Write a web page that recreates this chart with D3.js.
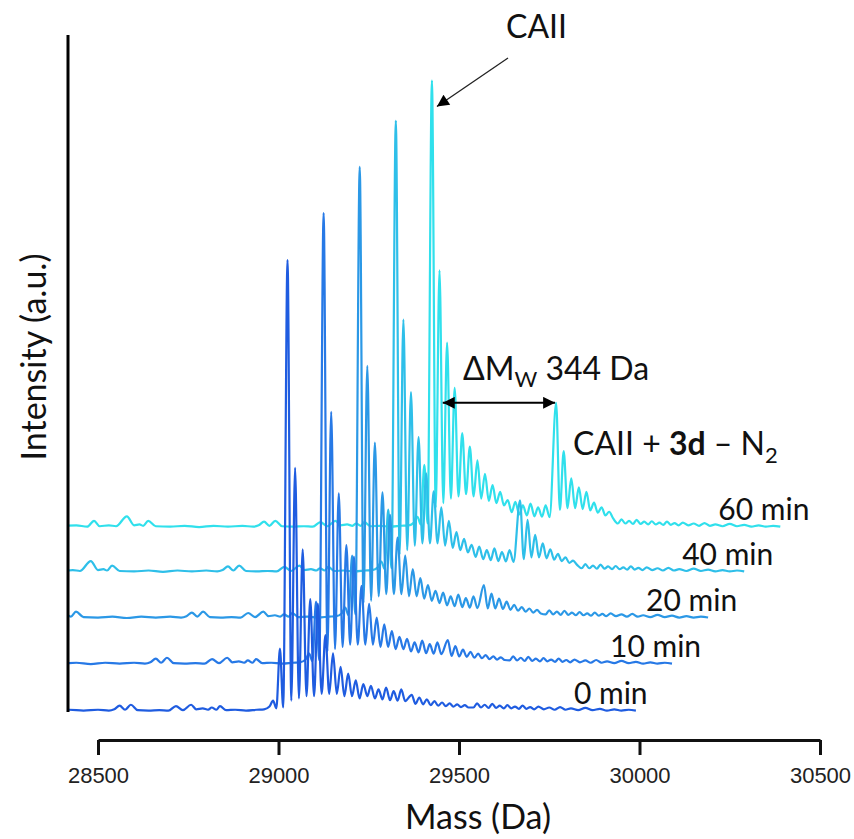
<!DOCTYPE html>
<html>
<head>
<meta charset="utf-8">
<title>CAII labelling time course</title>
<script src="https://cdn.jsdelivr.net/npm/d3@7"></script>
<style>
  body { margin: 0; background: #fff; }
  svg { display: block; }
  .lbl { font-family: Lato, "Open Sans", sans-serif; fill: #111; }
  .tick text { font-family: "Liberation Sans Narrow", "Arial Narrow", "Liberation Sans", sans-serif; font-size: 22px; fill: #222; }
</style>
</head>
<body>
<svg id="chart" width="854" height="839"></svg>
<script>
// spectra are stored in their own mass frame, the waterfall offsets are applied on drawing
const traceLabels = ['0 min', '10 min', '20 min', '40 min', '60 min'];
const traceColors = ['#1f5ce0', '#2779e6', '#2b98e6', '#2ebfe9', '#30e0ec'];
const massShift = [0, 100, 200, 300, 400];          // Da
const intensityShift = [0, 10.4, 20.6, 30.8, 40.7]; // a.u.
const massTicks = [28500, 29000, 29500, 30000, 30500];

// baseline noise + small pre-peak (shared by all traces)
const baselinePts = [
  [28000, 0.4], [28040, 0.6], [28070, 0.3], [28089, 1.6], [28105, 0.4], [28130, 0.6],
  [28150, 0.4], [28180, 2.6], [28200, 0.6], [28215, 0.8], [28225, 0.5], [28239, 1.6],
  [28260, 0.4], [28300, 0.3], [28340, 0.5], [28380, 0.2], [28420, 0.5], [28460, 0.3],
  [28500, 0.5], [28530, 0.3], [28545, 0.6], [28560, 1.4], [28575, 0.5], [28591, 1.6],
  [28610, 0.4], [28640, 0.3], [28670, 0.4], [28695, 0.3], [28716, 1.3], [28735, 0.4],
  [28758, 1.6], [28772, 0.6], [28790, 0.8], [28805, 0.5], [28815, 1.0], [28828, 0.5],
  [28838, 1.3], [28855, 0.4], [28880, 0.5], [28910, 0.3], [28940, 0.5], [28960, 0.6],
  [28975, 1.2], [28985, 2.5], [28994, 0.8], [29004, 14], [29013, 1.0]
];

// CAII main peak and its adduct ladder
const ladderMass = [29025, 29046, 29067, 29088, 29109, 29130, 29151, 29172, 29193, 29214];
const ladderPeaks = [
  [100, 54, 36, 25, 24, 17, 13, 10, 8.5, 7],
  [100, 56, 38, 26.5, 24, 17.5, 13.5, 10.5, 9, 7.5],
  [100, 56, 39, 28, 23, 18, 14, 11, 9, 7.5],
  [100, 56, 40, 30, 22, 18, 14.5, 11.5, 9, 7.5],
  [99, 57, 41, 31, 21, 18, 15, 12, 9.5, 8]
];
const ladderValleys = [
  [2.5, 3, 3.5, 3.5, 4, 4, 4, 3.5, 3.5, 3],
  [3, 3.5, 4, 4.5, 4.5, 4.5, 4.5, 4, 4, 3.5],
  [3.5, 4, 5, 5.5, 5.5, 5.5, 5, 5, 4.5, 4],
  [4, 5, 6, 6.5, 6.5, 6.5, 6, 5.5, 5, 4.5],
  [4.5, 5.5, 6.5, 7, 7.5, 7, 6.5, 6, 5.5, 5]
];

// decaying tail (shared)
const tailPts = [
  [29235, 6.2], [29246, 3.5], [29256, 5.8], [29267, 3.0], [29277, 5.0], [29288, 2.8],
  [29298, 5.4], [29309, 2.6], [29319, 4.6], [29330, 2.5], [29340, 5.0], [29351, 2.4],
  [29361, 4.2], [29372, 2.2], [29382, 4.4], [29393, 2.2], [29403, 3.8], [29414, 2.0],
  [29424, 3.2], [29435, 1.8], [29445, 3.0], [29456, 1.6], [29466, 2.6], [29477, 1.4],
  [29487, 2.4], [29498, 1.3], [29508, 2.2], [29519, 1.2], [29529, 2.0], [29540, 1.0],
  [29550, 1.9], [29561, 1.0], [29571, 1.6], [29582, 0.9], [29592, 1.8], [29603, 0.9],
  [29613, 1.4], [29624, 0.8], [29634, 1.5], [29645, 0.8], [29655, 1.2], [29666, 0.7],
  [29676, 1.4], [29687, 0.7], [29697, 1.1], [29708, 0.6], [29720, 1.2], [29735, 0.6],
  [29750, 1.0], [29765, 0.5], [29780, 1.1], [29795, 0.5], [29810, 0.8], [29830, 0.4],
  [29850, 0.9], [29870, 0.4], [29890, 0.7], [29910, 0.3], [29930, 0.6], [29950, 0.3],
  [29970, 0.5], [29990, 0.3]
];

// CAII + 3d - N2 (+344 Da)
const adductMass = [29369, 29390, 29411, 29432, 29453, 29474, 29495, 29516];
const adductPeaks = [
  [3.8, 3.2, 2.8, 2.4, 2.1, 1.9, 1.7, 1.5],
  [5.5, 4.2, 3.4, 2.9, 2.5, 2.2, 1.9, 1.7],
  [7.5, 5.6, 4.5, 3.8, 3.1, 2.6, 2.3, 2.0],
  [16, 11.7, 8.4, 6.5, 5.2, 4.2, 3.4, 2.7],
  [27.7, 17, 11, 9, 8, 5.6, 4.6, 3.6]
];
const adductValleys = [
  [1.8, 1.7, 1.5, 1.4, 1.3, 1.2, 1.1, 1.0],
  [2.0, 1.9, 1.8, 1.6, 1.5, 1.3, 1.2, 1.1],
  [2.3, 2.3, 2.2, 2.0, 1.8, 1.6, 1.4, 1.2],
  [3.0, 3.4, 3.4, 3.2, 2.9, 2.6, 2.2, 1.8],
  [4.0, 4.4, 4.4, 4.2, 3.9, 3.4, 2.8, 2.2]
];
const halfSpacing = 10.5;

const svg = d3.select('#chart');

const x = d3.scaleLinear().domain([28500, 30500]).range([98, 820]);
const y = d3.scaleLinear().domain([0, 150]).range([712, 34]);

function buildTrace(i) {
  var pts = baselinePts.slice();
  ladderMass.forEach(function (m, k) {
    pts.push([m, ladderPeaks[i][k]]);
    pts.push([m + halfSpacing, ladderValleys[i][k]]);
  });
  tailPts.forEach(function (p) {
    if (p[0] < 29355 || p[0] > 29535) pts.push(p);
  });
  adductMass.forEach(function (m, k) {
    pts.push([m, adductPeaks[i][k]]);
    pts.push([m + halfSpacing, adductValleys[i][k]]);
  });
  pts.sort(function (a, b) { return a[0] - b[0]; });
  return pts.map(function (p) { return [p[0] + massShift[i], p[1] + intensityShift[i]]; });
}

svg.append('clipPath').attr('id', 'plotclip')
  .append('rect').attr('x', 68).attr('y', 0).attr('width', 800).attr('height', 760);

var line = d3.line()
  .x(function (d) { return x(d[0]); })
  .y(function (d) { return y(d[1]); })
  .curve(d3.curveMonotoneX);

var traces = svg.append('g').attr('clip-path', 'url(#plotclip)');
// back (60 min) first, front (0 min) last
d3.range(traceLabels.length - 1, -1, -1).forEach(function (i) {
  traces.append('path')
    .datum(buildTrace(i))
    .attr('d', line)
    .attr('fill', 'none')
    .attr('stroke', traceColors[i])
    .attr('stroke-width', 2.2)
    .attr('stroke-linejoin', 'round');
});

// trace labels
traceLabels.forEach(function (t, i) {
  svg.append('text').attr('class', 'lbl')
    .attr('x', x(29990 + massShift[i]) - 62)
    .attr('y', y(intensityShift[i]) - 8)
    .attr('font-size', 30)
    .text(t);
});

// axes
svg.append('line')
  .attr('x1', 68).attr('x2', 68).attr('y1', 35).attr('y2', 712)
  .attr('stroke', '#000').attr('stroke-width', 3);

var xAxis = svg.append('g')
  .attr('transform', 'translate(0,740)')
  .call(d3.axisBottom(x).tickValues(massTicks).tickSize(15).tickSizeOuter(0)
    .tickPadding(12).tickFormat(d3.format('d')));
xAxis.select('.domain').attr('stroke', '#111').attr('stroke-width', 3);
xAxis.selectAll('.tick line').attr('stroke', '#111').attr('stroke-width', 3);

svg.append('text').attr('class', 'lbl')
  .attr('x', 478).attr('y', 829).attr('text-anchor', 'middle')
  .attr('font-size', 34).text('Mass (Da)');

svg.append('text').attr('class', 'lbl')
  .attr('transform', 'translate(46,357) rotate(-90)')
  .attr('text-anchor', 'middle')
  .attr('font-size', 34).text('Intensity (a.u.)');

// annotations
var defs = svg.append('defs');
defs.append('marker').attr('id', 'head').attr('viewBox', '0 0 10 10')
  .attr('refX', 9).attr('refY', 5).attr('markerWidth', 9).attr('markerHeight', 9)
  .attr('markerUnits', 'userSpaceOnUse').attr('orient', 'auto-start-reverse')
  .append('path').attr('d', 'M0,0 L10,5 L0,10 z').attr('fill', '#000');
defs.append('marker').attr('id', 'head2').attr('viewBox', '0 0 10 10')
  .attr('refX', 10).attr('refY', 5).attr('markerWidth', 16).attr('markerHeight', 12)
  .attr('markerUnits', 'userSpaceOnUse').attr('orient', 'auto-start-reverse')
  .append('path').attr('d', 'M0,0 L10,5 L0,10 z').attr('fill', '#000');

// CAII arrow, pointing at the 60 min main peak
var mainX = x(ladderMass[0] + massShift[4]);
var mainY = y(ladderPeaks[4][0] + intensityShift[4]);
svg.append('line')
  .attr('x1', 508).attr('y1', 58).attr('x2', mainX + 5).attr('y2', mainY + 26)
  .attr('stroke', '#222').attr('stroke-width', 1.3)
  .attr('marker-end', 'url(#head2)');
svg.append('text').attr('class', 'lbl')
  .attr('x', 506).attr('y', 38).attr('font-size', 32).text('CAII');

// mass difference arrow, 60 min trace
var adY = y(adductPeaks[4][0] + intensityShift[4]);
svg.append('line')
  .attr('x1', x(29055 + massShift[4])).attr('x2', x(adductMass[0] + massShift[4]) - 1)
  .attr('y1', adY).attr('y2', adY)
  .attr('stroke', '#000').attr('stroke-width', 2)
  .attr('marker-start', 'url(#head2)').attr('marker-end', 'url(#head2)');

var dm = svg.append('text').attr('class', 'lbl')
  .attr('x', 463).attr('y', 380).attr('font-size', 32);
dm.append('tspan').text('\u0394M');
dm.append('tspan').attr('font-size', 22).attr('dy', 7).text('W');
dm.append('tspan').attr('dy', -7).text(' 344 Da');

var ad = svg.append('text').attr('class', 'lbl')
  .attr('x', 573).attr('y', 455).attr('font-size', 32);
ad.append('tspan').text('CAII + ');
ad.append('tspan').attr('font-weight', 'bold').text('3d');
ad.append('tspan').text(' \u2013 N');
ad.append('tspan').attr('font-size', 22).attr('dy', 8).text('2');
</script>
</body>
</html>
